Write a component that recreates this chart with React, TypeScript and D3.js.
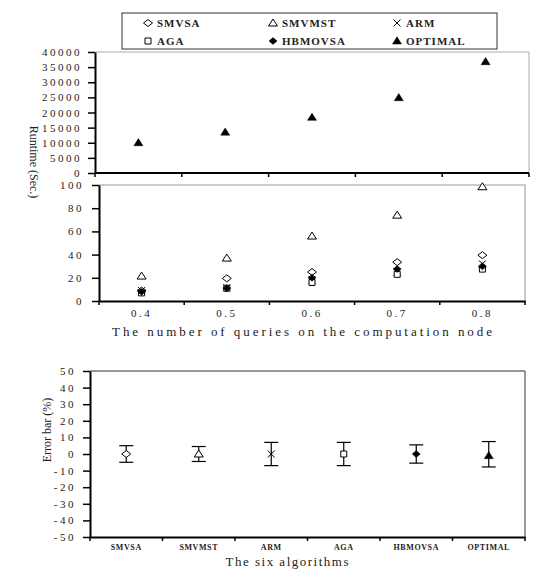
import * as d3 from "d3";
import { useRef, useEffect } from "react";

// runtime panel (upper, broken axis)
const queries = ["0.4", "0.5", "0.6", "0.7", "0.8"];
const optimalRuntime = [10000, 13500, 18400, 24900, 36800];
const runtimeTicks = [0, 5000, 10000, 15000, 20000, 25000, 30000, 35000, 40000];

// runtime panel (lower part)
const smvsaRuntime = [9, 19.5, 25, 33.5, 39.5];
const smvmstRuntime = [21.5, 37, 56, 74, 98.5];
const armRuntime = [9, 11.5, 18, 25, 32];
const agaRuntime = [7, 11, 16, 23, 27.5];
const hbmovsaRuntime = [8, 11, 20, 27.5, 30];
const lowTicks = [0, 20, 40, 60, 80, 100];

// error bar chart
const algorithms = ["SMVSA", "SMVMST", "ARM", "AGA", "HBMOVSA", "OPTIMAL"];
const errMean = [0, 0, 0, 0, 0, -1];
const errUpper = [5, 4.5, 7, 7, 5.5, 7.5];
const errLower = [-5, -4.5, -7, -7, -5.5, -7.8];
const errTicks = [-50, -40, -30, -20, -10, 0, 10, 20, 30, 40, 50];

const FONT = "Liberation Serif, serif";

const markerPaths: Record<string, string> = {
  diamondOpen: "M0,-3.5L4.5,0L0,3.5L-4.5,0Z",
  triangleOpen: "M0,-4L4.5,3L-4.5,3Z",
  x: "M-3.5,-3.5L3.5,3.5M-3.5,3.5L3.5,-3.5",
  squareOpen: "M-3,-3L3,-3L3,3L-3,3Z",
  diamondFilled: "M0,-3.5L4,0L0,3.5L-4,0Z",
  triangleFilled: "M0,-4.2L4.5,3L-4.5,3Z",
};

function marker(g: any, type: string, x: number, y: number) {
  const filled = type.endsWith("Filled");
  const open = type.endsWith("Open");
  g.append("path")
    .attr("d", markerPaths[type])
    .attr("transform", `translate(${x},${y})`)
    .attr("fill", filled ? "#000" : open ? "#fff" : "none")
    .attr("stroke", "#000")
    .attr("stroke-width", filled ? 0.5 : 1);
}

function styleAxis(g: any, fontSize = 11, spacing = 2.5) {
  g.attr("font-family", FONT);
  g.select(".domain").attr("stroke", "#000").attr("stroke-width", 2);
  g.selectAll(".tick line").attr("stroke", "#000").attr("stroke-width", 1.5);
  g.selectAll(".tick text")
    .attr("fill", "#222")
    .attr("font-family", FONT)
    .attr("font-size", fontSize)
    .style("letter-spacing", `${spacing}px`);
}

const plain = (d: any) => String(d);

export default function App() {
  const svgRef = useRef<SVGSVGElement>(null);

  useEffect(() => {
    const svg = d3.select(svgRef.current);
    svg.selectAll("*").remove();

    // ---------- upper runtime panel ----------
    const xTop = d3.scaleBand().domain(queries).range([95, 529]);
    const yTop = d3.scaleLinear().domain([0, 40000]).range([173, 52]);

    const top = svg.append("g");
    top.append("path")
      .attr("d", `M${xTop.range()[0]},${yTop(40000)}H${xTop.range()[1]}V${yTop(0)}`)
      .attr("fill", "none").attr("stroke", "#aaa").attr("stroke-width", 1);

    top.append("g")
      .attr("transform", `translate(${xTop.range()[0]},0)`)
      .call(d3.axisLeft(yTop).tickValues(runtimeTicks).tickFormat(plain).tickSize(7).tickPadding(6).tickSizeOuter(0))
      .call(styleAxis);

    top.append("line")
      .attr("x1", xTop.range()[0]).attr("x2", xTop.range()[1])
      .attr("y1", yTop(0)).attr("y2", yTop(0))
      .attr("stroke", "#000").attr("stroke-width", 2);
    top.selectAll(".btick")
      .data([...queries.map((q) => xTop(q)!), xTop.range()[1]])
      .join("line")
      .attr("x1", (d) => d).attr("x2", (d) => d)
      .attr("y1", yTop(0)).attr("y2", yTop(0) + 4)
      .attr("stroke", "#000").attr("stroke-width", 1.5);

    queries.forEach((q, i) => {
      marker(top, "triangleFilled", xTop(q)! + xTop.bandwidth() / 2, yTop(optimalRuntime[i]));
    });

    // ---------- lower runtime panel ----------
    const xLow = d3.scaleBand().domain(queries).range([99, 525]);
    const yLow = d3.scaleLinear().domain([0, 100]).range([301, 185]);
    const low = svg.append("g");

    low.append("path")
      .attr("d", `M${xLow.range()[0]},${yLow(100)}H${xLow.range()[1]}V${yLow(0)}`)
      .attr("fill", "none").attr("stroke", "#bbb").attr("stroke-width", 1.5);

    low.append("g")
      .attr("transform", `translate(${xLow.range()[0]},0)`)
      .call(d3.axisLeft(yLow).tickValues(lowTicks).tickFormat(plain).tickSize(7).tickPadding(8).tickSizeOuter(0))
      .call(styleAxis);

    low.append("g")
      .attr("transform", `translate(0,${yLow(0)})`)
      .call(d3.axisBottom(xLow).tickSize(0).tickPadding(8).tickSizeOuter(0))
      .call(styleAxis);
    low.selectAll(".btick")
      .data([...queries.map((q) => xLow(q)!), xLow.range()[1]])
      .join("line")
      .attr("x1", (d) => d).attr("x2", (d) => d)
      .attr("y1", yLow(0)).attr("y2", yLow(0) + 4)
      .attr("stroke", "#000").attr("stroke-width", 1.5);

    const lowSeries: [string, number[]][] = [
      ["diamondOpen", smvsaRuntime],
      ["triangleOpen", smvmstRuntime],
      ["x", armRuntime],
      ["squareOpen", agaRuntime],
      ["diamondFilled", hbmovsaRuntime],
    ];
    lowSeries.forEach(([type, vals]) => {
      queries.forEach((q, i) => {
        marker(low, type, xLow(q)! + xLow.bandwidth() / 2, yLow(vals[i]));
      });
    });

    svg.append("text")
      .attr("x", 302).attr("y", 336)
      .attr("text-anchor", "middle")
      .attr("textLength", 380).attr("lengthAdjust", "spacing")
      .attr("font-family", FONT).attr("font-size", 13)
      .attr("fill", "#222")
      .text("The number of queries on the computation node");

    svg.append("text")
      .attr("transform", "translate(30,162) rotate(90)")
      .attr("text-anchor", "middle")
      .attr("font-family", FONT).attr("font-size", 12)
      .attr("fill", "#222")
      .text("Runtime (Sec.)");

    // ---------- legend ----------
    const legend = svg.append("g");
    legend.append("rect")
      .attr("x", 122).attr("y", 13).attr("width", 375).attr("height", 36)
      .attr("fill", "#fff").attr("stroke", "#333").attr("stroke-width", 1);
    const legendItems: [string, string][] = [
      ["SMVSA", "diamondOpen"],
      ["SMVMST", "triangleOpen"],
      ["ARM", "x"],
      ["AGA", "squareOpen"],
      ["HBMOVSA", "diamondFilled"],
      ["OPTIMAL", "triangleFilled"],
    ];
    const colX = [148, 273, 397];
    const rowY = [23, 41];
    legendItems.forEach(([name, type], i) => {
      const cx = colX[i % 3];
      const cy = rowY[Math.floor(i / 3)];
      marker(legend, type, cx, cy);
      legend.append("text")
        .attr("x", cx + 9).attr("y", cy + 4)
        .attr("font-family", FONT).attr("font-size", 11).attr("font-weight", "bold")
        .style("letter-spacing", "1px")
        .attr("fill", "#222")
        .text(name);
    });

    // ---------- error bar chart ----------
    const xErr = d3.scaleBand().domain(algorithms).range([90, 525]);
    const yErr = d3.scaleLinear().domain([-50, 50]).range([537, 371]);
    const err = svg.append("g");

    err.append("path")
      .attr("d", `M${xErr.range()[0]},${yErr(50)}H${xErr.range()[1]}V${yErr(-50)}`)
      .attr("fill", "none").attr("stroke", "#333").attr("stroke-width", 1);

    err.append("g")
      .attr("transform", `translate(${xErr.range()[0]},0)`)
      .call(d3.axisLeft(yErr).tickValues(errTicks).tickFormat(plain).tickSize(7).tickPadding(7).tickSizeOuter(0))
      .call(styleAxis);

    err.append("g")
      .attr("transform", `translate(0,${yErr(-50)})`)
      .call(d3.axisBottom(xErr).tickSize(0).tickPadding(7).tickSizeOuter(0))
      .call((g: any) => styleAxis(g, 8, 0.6))
      .call((g: any) => g.selectAll(".tick text").attr("font-weight", "bold"));
    err.selectAll(".btick")
      .data([...algorithms.map((a) => xErr(a)!), xErr.range()[1]])
      .join("line")
      .attr("x1", (d) => d).attr("x2", (d) => d)
      .attr("y1", yErr(-50)).attr("y2", yErr(-50) + 4)
      .attr("stroke", "#000").attr("stroke-width", 1.5);

    algorithms.forEach((a, i) => {
      const cx = xErr(a)! + xErr.bandwidth() / 2;
      const bar = err.append("g").attr("stroke", "#000").attr("stroke-width", 1.2);
      bar.append("line").attr("x1", cx).attr("x2", cx).attr("y1", yErr(errUpper[i])).attr("y2", yErr(errLower[i]));
      bar.append("line").attr("x1", cx - 7).attr("x2", cx + 7).attr("y1", yErr(errUpper[i])).attr("y2", yErr(errUpper[i]));
      bar.append("line").attr("x1", cx - 7).attr("x2", cx + 7).attr("y1", yErr(errLower[i])).attr("y2", yErr(errLower[i]));
      marker(err, legendItems[i][1], cx, yErr(errMean[i]));
    });

    svg.append("text")
      .attr("x", 287).attr("y", 566)
      .attr("text-anchor", "middle")
      .attr("textLength", 123).attr("lengthAdjust", "spacing")
      .attr("font-family", FONT).attr("font-size", 13)
      .attr("fill", "#222")
      .text("The six algorithms");

    svg.append("text")
      .attr("transform", "translate(51,430) rotate(-90)")
      .attr("text-anchor", "middle")
      .attr("font-family", FONT).attr("font-size", 12)
      .attr("fill", "#222")
      .text("Error bar (%)");
  }, []);

  return (
    <svg
      ref={svgRef}
      width={540}
      height={572}
      style={{ position: "absolute", left: 0, top: 0, background: "#fff" }}
    ></svg>
  );
}
